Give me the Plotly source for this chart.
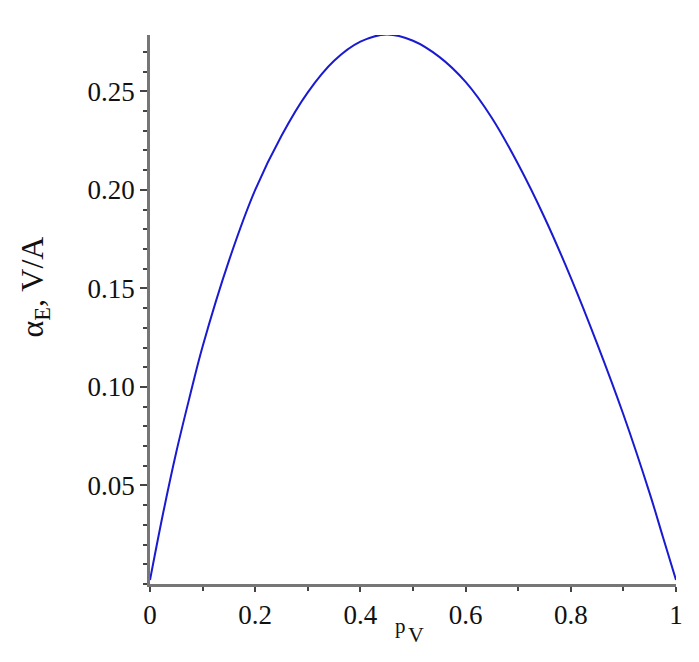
import plotly.graph_objects as go

# curve
p_v = [0.0, 0.025, 0.05, 0.075, 0.10, 0.15, 0.20, 0.25, 0.30, 0.35, 0.40, 0.45,
       0.50, 0.55, 0.60, 0.65, 0.70, 0.75, 0.80, 0.85, 0.90, 0.95, 0.975, 1.0]
alpha_e = [0.002, 0.036, 0.067, 0.0945, 0.1205, 0.164, 0.2000, 0.2275, 0.2495, 0.2655,
           0.2752, 0.2789, 0.2757, 0.2675, 0.2548, 0.2365, 0.2130, 0.1860, 0.1555,
           0.1220, 0.0860, 0.046, 0.024, 0.002]

x_ticks = [0, 0.2, 0.4, 0.6, 0.8, 1]
x_labels = ['0', '0.2', '0.4', '0.6', '0.8', '1']
y_ticks = [0.05, 0.10, 0.15, 0.20, 0.25]
y_labels = ['0.05', '0.10', '0.15', '0.20', '0.25']

axis_col = '#767676'
serif = 'Liberation Serif, Times New Roman, serif'

fig = go.Figure()
fig.add_trace(go.Scatter(
    x=p_v, y=alpha_e, mode='lines',
    line=dict(color='#1a1ad0', width=2, shape='spline', smoothing=1),
    showlegend=False, hoverinfo='skip'))

fig.update_xaxes(
    range=[0, 1], showgrid=False, zeroline=False,
    showline=True, linecolor=axis_col, linewidth=2.5,
    tickvals=x_ticks, ticktext=x_labels,
    ticks='outside', ticklen=5, tickwidth=1.5, tickcolor='#444',
    ticklabelstandoff=0,
    minor=dict(dtick=0.1, tick0=0, ticks='outside', ticklen=4, tickwidth=1.5, tickcolor='#444'),
    tickfont=dict(family=serif, size=27, color='#111'))
fig.update_yaxes(
    range=[0, 0.2786], showgrid=False, zeroline=False,
    showline=True, linecolor=axis_col, linewidth=2.5,
    tickvals=y_ticks, ticktext=y_labels,
    ticks='outside', ticklen=7, tickwidth=1.5, tickcolor='#444',
    ticklabelstandoff=0,
    minor=dict(dtick=0.01, tick0=0, ticks='outside', ticklen=4, tickwidth=1.5, tickcolor='#444'),
    tickfont=dict(family=serif, size=27, color='#111'))

# axis titles placed as in the picture
fig.add_annotation(text='α<sub>E</sub>, V/A', xref='paper', yref='paper',
                   x=-0.2186, y=0.540, xanchor='center', yanchor='middle',
                   textangle=-90, showarrow=False,
                   font=dict(family=serif, size=32, color='#111'))
fig.add_annotation(text='p', xref='paper', yref='paper',
                   x=0.476, y=-0.076, xanchor='center', yanchor='middle',
                   showarrow=False, font=dict(family=serif, size=21, color='#111'))
fig.add_annotation(text='V', xref='paper', yref='paper',
                   x=0.505, y=-0.092, xanchor='center', yanchor='middle',
                   showarrow=False, font=dict(family=serif, size=22, color='#111'))

fig.update_layout(
    width=699, height=662,
    margin=dict(l=142, r=31, t=27, b=86),
    plot_bgcolor='white', paper_bgcolor='white')

fig.write_html("out.html")
